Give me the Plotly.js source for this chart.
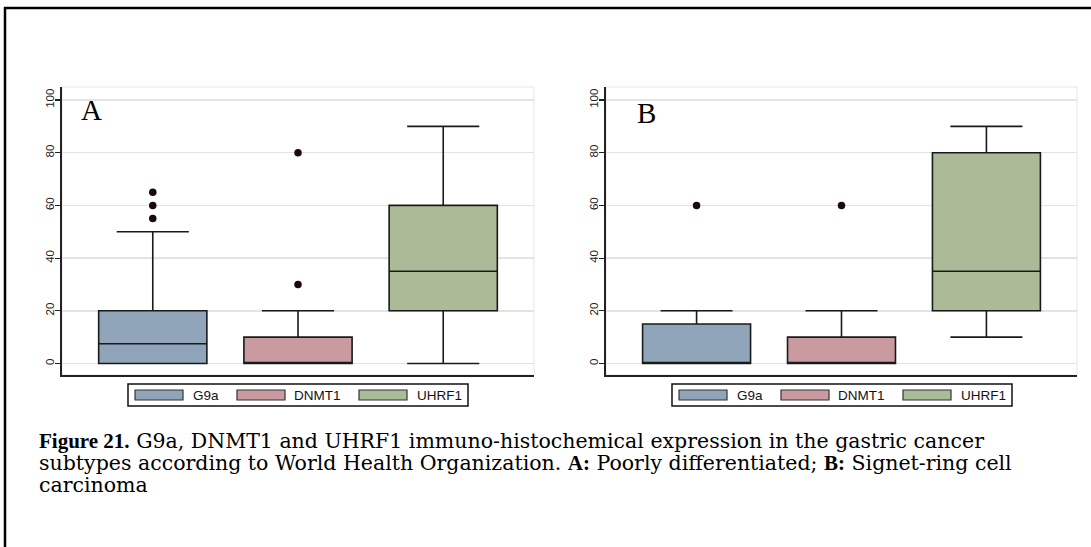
<!DOCTYPE html>
<html>
<head>
<meta charset="utf-8">
<script src="https://cdn.plot.ly/plotly-3.0.1.min.js"></script>
<style>
html,body{margin:0;padding:0;background:#fff;}
#chart{width:1091px;height:547px;}
</style>
</head>
<body>
<div id="chart"></div>
<script>
// ---- Data ----
const categories = ['G9a', 'DNMT1', 'UHRF1'];
const colors = ['#91a5ba', '#c99a9f', '#abbb97'];

// Panel A: Poorly differentiated
const q1A = [0, 0, 20];
const medianA = [7.5, 0, 35];
const q3A = [20, 10, 60];
const lowerA = [0, 0, 0];
const upperA = [50, 20, 90];
const outliersA = [[55, 60, 65], [30, 80], []];

// Panel B: Signet-ring cell carcinoma
const q1B = [0, 0, 20];
const medianB = [0, 0, 35];
const q3B = [15, 10, 80];
const lowerB = [0, 0, 10];
const upperB = [20, 20, 90];
const outliersB = [[60], [60], []];

const yTicks = [0, 20, 40, 60, 80, 100];

// ---- Helpers ----
const W = 1091, H = 547;
const px = v => v / W;
const py = v => 1 - v / H;

function boxTraces(q1, med, q3, lo, hi, outl, xa, ya) {
  const traces = [];
  categories.forEach((c, i) => {
    traces.push({
      type: 'box',
      name: c,
      x: [c],
      q1: [q1[i]], median: [med[i]], q3: [q3[i]],
      lowerfence: [lo[i]], upperfence: [hi[i]],
      fillcolor: colors[i],
      line: {color: '#1a1a1a', width: 1.6},
      whiskerwidth: 0.667,
      width: 0.745,
      boxpoints: false,
      xaxis: xa, yaxis: ya,
      showlegend: false,
      hoverinfo: 'skip'
    });
  });
  const ox = [], oy = [];
  categories.forEach((c, i) => outl[i].forEach(v => { ox.push(c); oy.push(v); }));
  traces.push({
    type: 'scatter', mode: 'markers',
    x: ox, y: oy, xaxis: xa, yaxis: ya,
    marker: {color: '#1c0a0a', size: 7.5},
    showlegend: false, hoverinfo: 'skip'
  });
  return traces;
}

const data = [
  ...boxTraces(q1A, medianA, q3A, lowerA, upperA, outliersA, 'x', 'y'),
  ...boxTraces(q1B, medianB, q3B, lowerB, upperB, outliersB, 'x2', 'y2')
];

const yRange = [-4.36, 104.93];
const xRange = [-0.625, 2.625];
const yDomain = [py(375), py(87)];

function yAxis(anchor) {
  return {
    domain: yDomain, range: yRange, anchor: anchor,
    tickvals: yTicks, ticktext: yTicks.map(String),
    tickangle: -90,
    ticks: 'outside', ticklen: 5, tickwidth: 1.2, tickcolor: '#222',
    ticklabelstandoff: -3,
    showline: true, linecolor: '#222', linewidth: 1.6,
    showgrid: true, gridcolor: '#e3e3e3', gridwidth: 1.5,
    zeroline: false,
    tickfont: {family: 'Liberation Sans, Arial, sans-serif', size: 11.5, color: '#222'},
    fixedrange: true
  };
}
function xAxis(domain, anchor) {
  return {
    domain: domain, range: xRange, anchor: anchor,
    type: 'category', categoryorder: 'array', categoryarray: categories,
    showticklabels: false, ticks: '',
    showline: true, linecolor: '#222', linewidth: 1.6,
    showgrid: false, zeroline: false, fixedrange: true
  };
}

const shapes = [];
const annotations = [];

// plot-area faint borders
[['x', 'y'], ['x2', 'y2']].forEach(([xa, ya]) => {
  shapes.push({type: 'rect', xref: xa + ' domain', yref: ya + ' domain', x0: 0, x1: 1, y0: 0, y1: 1,
    line: {color: '#e6e6e6', width: 1}, layer: 'below'});
});

// outer frame (top and left)
shapes.push({type: 'line', xref: 'paper', yref: 'paper', x0: px(4), x1: 1, y0: py(8), y1: py(8), line: {color: '#000', width: 2.5}});
shapes.push({type: 'line', xref: 'paper', yref: 'paper', x0: px(5), x1: px(5), y0: py(7), y1: 0, line: {color: '#000', width: 2.5}});

// legends
function legend(left) {
  shapes.push({type: 'rect', xref: 'paper', yref: 'paper', x0: px(left), x1: px(left + 340), y0: py(406), y1: py(384),
    line: {color: '#111', width: 1.5}, fillcolor: 'rgba(0,0,0,0)'});
  const swOff = [7, 109, 231];
  const txOff = [63, 164, 287];
  categories.forEach((c, i) => {
    shapes.push({type: 'rect', xref: 'paper', yref: 'paper', x0: px(left + swOff[i]), x1: px(left + swOff[i] + 48),
      y0: py(400), y1: py(390), line: {color: '#333', width: 1.2}, fillcolor: colors[i]});
    annotations.push({xref: 'paper', yref: 'paper', x: px(left + txOff[i]), y: py(395.5), xanchor: 'left', yanchor: 'middle',
      text: c, showarrow: false, font: {family: 'Liberation Sans, Arial, sans-serif', size: 13.5, color: '#111'}});
  });
}
legend(128);
legend(672);

// panel letters
annotations.push({xref: 'paper', yref: 'paper', x: px(92), y: py(110), xanchor: 'center', yanchor: 'middle', text: 'A',
  showarrow: false, font: {family: 'Liberation Serif, Times New Roman, serif', size: 29, color: '#000'}});
annotations.push({xref: 'paper', yref: 'paper', x: px(646), y: py(113), xanchor: 'center', yanchor: 'middle', text: 'B',
  showarrow: false, font: {family: 'Liberation Serif, Times New Roman, serif', size: 29, color: '#000'}});

// caption
const B = t => '<span style="font-family:Liberation Serif;font-weight:bold;font-size:21px">' + t + '</span>';
const captionLines = [
  B('Figure 21.') + ' G9a, DNMT1 and UHRF1 immuno-histochemical expression in the gastric cancer',
  'subtypes according to World Health Organization. ' + B('A:') + ' Poorly differentiated; ' + B('B:') + ' Signet-ring cell',
  'carcinoma'
];
const captionY = [441, 463, 485];
captionLines.forEach((t, i) => {
  annotations.push({xref: 'paper', yref: 'paper', x: px(37), y: py(captionY[i]), xanchor: 'left', yanchor: 'middle',
    text: t, showarrow: false, font: {family: 'DejaVu Serif, serif', size: 20.5, color: '#000'}});
});

const layout = {
  width: W, height: H,
  margin: {l: 0, r: 0, t: 0, b: 0},
  paper_bgcolor: '#fff', plot_bgcolor: '#fff',
  boxmode: 'overlay',
  showlegend: false,
  xaxis: xAxis([px(62), px(534)], 'y'),
  yaxis: yAxis('x'),
  xaxis2: xAxis([px(606), px(1077)], 'y2'),
  yaxis2: yAxis('x2'),
  shapes: shapes,
  annotations: annotations
};

Plotly.newPlot('chart', data, layout, {displayModeBar: false, staticPlot: true});
</script>
</body>
</html>
